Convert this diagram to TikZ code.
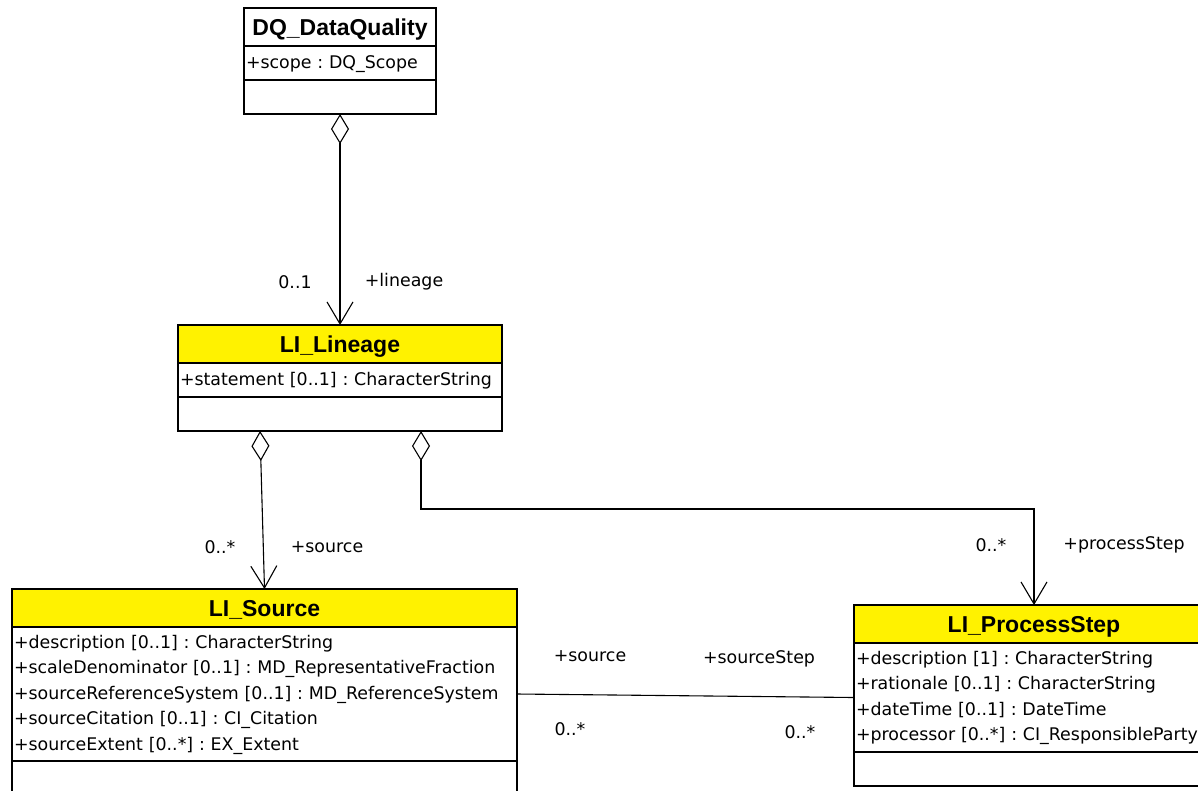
\documentclass[tikz,border=0pt]{standalone}
\usepackage{fontspec}
\setmainfont{DejaVu Sans}
\newfontfamily\titlefont{Liberation Sans}
\usepackage{tikz}
\usetikzlibrary{shapes, arrows.meta, positioning}
\frenchspacing

\tikzset{
  clstitle/.style={draw, line width=1.5pt, fill=yellow, minimum height=38pt,
    text height=17pt, text depth=0pt,
    inner sep=0pt, outer sep=0pt, font=\titlefont\bfseries\fontsize{23}{26}\selectfont},
  clsattr/.style={draw, line width=1.5pt, anchor=north west, inner xsep=2pt, inner ysep=0pt,
    outer sep=0pt, align=left, font=\fontsize{17.4}{25.5}\selectfont,
    execute at begin node=\strut, execute at end node=\strut},
  clsops/.style={draw, line width=1.5pt, anchor=north west, minimum height=34pt,
    inner sep=0pt, outer sep=0pt},
  rolelabel/.style={font=\fontsize{17.4}{20}\selectfont},
  aggr/.style={line width=1.1pt,
    {Diamond[open, length=30pt, width=18pt, line width=1.1pt]}-{Straight Barb[length=22pt, width=26pt, line width=1.1pt]}},
  assoc/.style={line width=1.1pt},
}

\begin{document}
\begin{tikzpicture}[x=1pt, y=-1pt]
  \useasboundingbox (0,0) rectangle (1198,790);
  \clip (0,0) rectangle (1198,790);

  % DQ_DataQuality
  \node[clstitle, minimum width=192pt, fill=white] (dq) at (340,27) {DQ\_DataQuality};
  \node[clsattr, text width=188pt, minimum height=34pt] (dqattr) at (dq.south west) {+scope : DQ\_Scope};
  \node[clsops, minimum width=192pt] (dqops) at (dqattr.south west) {};

  % LI_Lineage
  \node[clstitle, minimum width=324pt] (lin) at (340,344) {LI\_Lineage};
  \node[clsattr, text width=320pt, minimum height=34pt] (linattr) at (lin.south west) {+statement [0..1] : CharacterString};
  \node[clsops, minimum width=324pt] (linops) at (linattr.south west) {};

  % LI_Source
  \node[clstitle, minimum width=505pt] (src) at (264.5,608) {LI\_Source};
  \node[clsattr, text width=501pt, minimum height=134pt] (srcattr) at (src.south west)
    {+description [0..1] : CharacterString\\
     +scaleDenominator [0..1] : MD\_RepresentativeFraction\\
     +sourceReferenceSystem [0..1] : MD\_ReferenceSystem\\
     +sourceCitation [0..1] : CI\_Citation\\
     +sourceExtent [0..*] : EX\_Extent};
  \node[clsops, minimum width=505pt] (srcops) at (srcattr.south west) {};

  % LI_ProcessStep
  \node[clstitle, minimum width=360pt] (ps) at (1034,624) {LI\_ProcessStep};
  \node[clsattr, text width=356pt, minimum height=109pt] (psattr) at (ps.south west)
    {+description [1] : CharacterString\\
     +rationale [0..1] : CharacterString\\
     +dateTime [0..1] : DateTime\\
     +processor [0..*] : CI\_ResponsibleParty};
  \node[clsops, minimum width=360pt] (psops) at (psattr.south west) {};

  % Relaciones
  \draw[aggr] (dqops.south) -- (lin.north);
  \draw[aggr] ([xshift=-80pt]linops.south) -- (src.north);
  \draw[aggr] ([xshift=81pt]linops.south) -- ++(0,78) -| (ps.north);
  \draw[assoc] (srcattr.east) -- (psattr.west);

  % Roles y multiplicidades
  \node[rolelabel] (mlin) at (295,282) {0..1};
  \node[rolelabel] (rlin) at (404,282) {+lineage};
  \node[rolelabel] (msrc) at (220,547) {0..*};
  \node[rolelabel] (rsrc) at (327,547) {+source};
  \node[rolelabel] (mps) at (991,545) {0..*};
  \node[rolelabel] (rps) at (1124,545) {+processStep};
  \node[rolelabel] (rsrcb) at (590,656) {+source};
  \node[rolelabel] (rstep) at (759,659) {+sourceStep};
  \node[rolelabel] (msrcb) at (570,729) {0..*};
  \node[rolelabel] (mstep) at (800,732) {0..*};
\end{tikzpicture}
\end{document}
